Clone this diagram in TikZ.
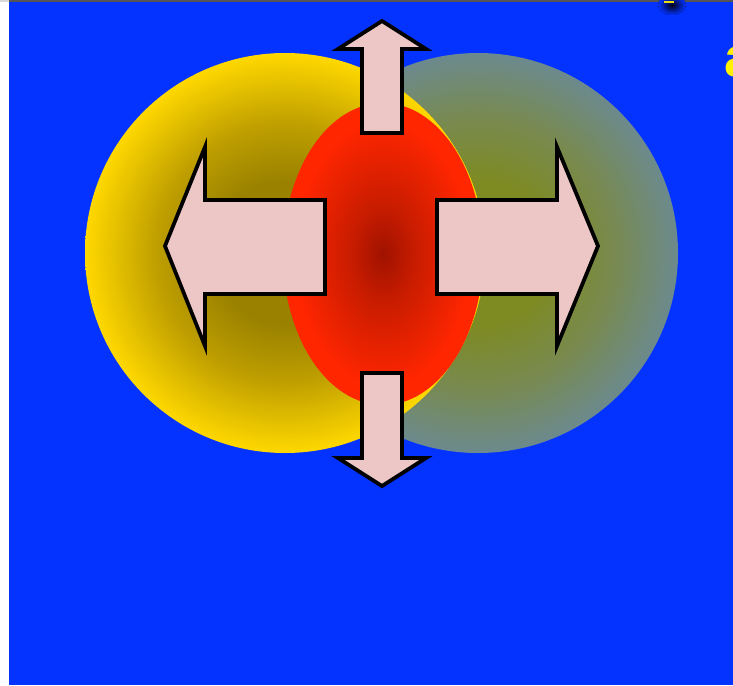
\documentclass[tikz,border=0pt]{standalone}
\usepackage{fontspec}
\setmainfont{Liberation Sans}
\definecolor{bgblue}{HTML}{0433FF}
\definecolor{ycin}{HTML}{9A8200}
\definecolor{ycmid}{HTML}{BE9E00}
\definecolor{ycout}{HTML}{FFD800}
\definecolor{gcin}{HTML}{7E8A22}
\definecolor{gcmid}{HTML}{788A50}
\definecolor{gcout}{HTML}{6C8A8E}
\definecolor{rcin}{HTML}{A01200}
\definecolor{rcmid}{HTML}{C81C00}
\definecolor{rcout}{HTML}{FF2600}
\definecolor{arrowpink}{HTML}{EDC6C6}
\definecolor{topline}{HTML}{555555}
\pgfdeclareradialshading{yshade}{\pgfpoint{0bp}{0bp}}{color(0bp)=(ycin); color(9bp)=(ycin); color(16bp)=(ycmid); color(25bp)=(ycout); color(50bp)=(ycout)}
\pgfdeclareradialshading{gshade}{\pgfpoint{0bp}{0bp}}{color(0bp)=(gcin); color(9bp)=(gcin); color(17bp)=(gcmid); color(25bp)=(gcout); color(50bp)=(gcout)}
\pgfdeclareradialshading{rshade}{\pgfpoint{0bp}{0bp}}{color(0bp)=(rcin); color(8bp)=(rcmid); color(22bp)=(rcout); color(50bp)=(rcout)}
\tikzset{
  fatarrow/.style={fill=arrowpink, draw=black, line width=3.8pt, line join=miter},
}
\begin{document}
\begin{tikzpicture}[x=1pt,y=-1pt]
\useasboundingbox (0,0) rectangle (733,685);
\clip (0,0) rectangle (733,685);
% background
\fill[white] (0,0) rectangle (733,685);
\fill[bgblue] (9,2) rectangle (733,685);
\fill[topline] (0,0) rectangle (733,2);
\fill[black!15] (0,0) rectangle (9,2);
% top blob
\fill[inner color=black!90!blue, outer color=bgblue] (672,5) ellipse [x radius=14, y radius=10];
\fill[yellow!90!black] (664,1.5) rectangle (674,3);
% yellow letter cut at the right edge (as in the reference)
\node[anchor=base west, inner sep=0pt, text=yellow, font=\fontsize{56}{56}\selectfont\bfseries] (lettera) at (724,77) {a};
% circles
\path[shading=gshade] (478,253) circle [radius=200];
\path[shading=yshade] (285,253) circle [radius=200];
\path[shading=rshade] (383,254) ellipse [x radius=100, y radius=151];
% arrows
\draw[fatarrow] (325,200) -- (205,200) -- (205,147) -- (165,246) -- (205,346) -- (205,294) -- (325,294) -- cycle;
\draw[fatarrow] (437,200) -- (557,200) -- (557,147) -- (598,246) -- (557,346) -- (557,294) -- (437,294) -- cycle;
\draw[fatarrow] (362,133) -- (362,49) -- (338,49) -- (382,21) -- (426,49) -- (402,49) -- (402,133) -- cycle;
\draw[fatarrow] (362,373) -- (362,458) -- (338,458) -- (382,486) -- (426,458) -- (402,458) -- (402,373) -- cycle;
\end{tikzpicture}
\end{document}
